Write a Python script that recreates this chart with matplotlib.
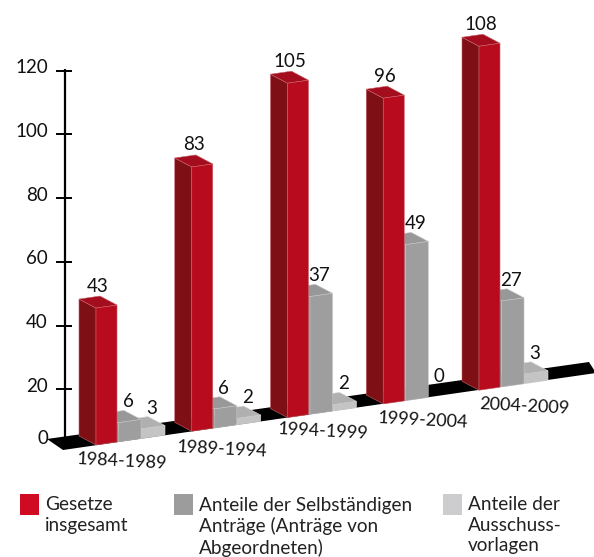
import matplotlib
matplotlib.use("Agg")
import matplotlib.pyplot as plt
from matplotlib.patches import Polygon, Rectangle

plt.rcParams['font.family'] = ['Lato', 'DejaVu Sans']

perioden = ['1984-1989', '1989-1994', '1994-1999', '1999-2004', '2004-2009']
gesetze = [43, 83, 105, 96, 108]
selbstaendige = [6, 6, 37, 49, 27]
ausschuss = [3, 2, 2, 0, 3]
y_ticks = [20, 40, 60, 80, 100, 120]

WIDTH, HEIGHT = 594, 557
PX_PER_UNIT = 3.185    # bar height per law
SLOPE = -0.143         # the floor climbs to the right
GROUP_STEP = 95.75
FIRST_X, FIRST_Y = 96, 445
DEPTH = (-17, -9)
ZERO_Y = 452.9         # where the scale of the axis would reach 0

fig = plt.figure(figsize=(WIDTH / 100, HEIGHT / 100), dpi=100)
ax = fig.add_axes([0, 0, 1, 1])
ax.set_xlim(0, WIDTH)
ax.set_ylim(HEIGHT, 0)
ax.axis('off')


def floor_y(x):
    return FIRST_Y + SLOPE * (x - FIRST_X)


def bar3d(x, w, value, front, side, top, edge):
    # quader: front face, left side and lid
    y0 = floor_y(x)
    y1 = floor_y(x + w)
    h = value * PX_PER_UNIT
    dx, dy = DEPTH
    ax.add_patch(Polygon([(x, y0), (x + dx, y0 + dy), (x + dx, y0 + dy - h), (x, y0 - h)],
                         fc=side, ec=edge, lw=0.4, zorder=3))
    ax.add_patch(Polygon([(x, y0 - h), (x + dx, y0 + dy - h), (x + w + dx, y1 + dy - h), (x + w, y1 - h)],
                         fc=top, ec=edge, lw=0.4, zorder=3))
    ax.add_patch(Polygon([(x, y0), (x + w, y1), (x + w, y1 - h), (x, y0 - h)],
                         fc=front, ec=edge, lw=0.4, zorder=3))


# floor band
ax.add_patch(Polygon([(47, 439), (589, 362), (596, 373), (63, 450)], fc='black', ec='none', zorder=1))

# y axis
ax.plot([65, 65], [69, 438], color='black', lw=1.6, zorder=2, solid_capstyle='butt')
for t in y_ticks:
    yy = ZERO_Y - t * PX_PER_UNIT
    ax.plot([56, 72], [yy, yy], color='black', lw=1.4, zorder=2, solid_capstyle='butt')
    ax.text(48, yy - 3, str(t), ha='right', va='center', fontsize=13.5, color='#111111')
ax.text(48, 439, '0', ha='right', va='center', fontsize=13.5, color='#111111')

label_pos = [(122, 461), (222, 449), (323, 431), (423, 420), (524, 406)]

for i, name in enumerate(perioden):
    x = FIRST_X + i * GROUP_STEP
    # back to front: light, grey, red
    if ausschuss[i] > 0:
        bar3d(x + 45.5, 23.5, ausschuss[i], '#c4c4c4', '#a8a8a8', '#b0b0b0', '#d8d8d8')
    bar3d(x + 22.5, 22.5, selbstaendige[i], '#9e9e9e', '#8c8c8c', '#989898', '#c4c4c4')
    bar3d(x, 21, gesetze[i], '#b80c1e', '#7e1015', '#a30d1d', '#c9606a')

    ax.text(x + 2, floor_y(x) - gesetze[i] * PX_PER_UNIT - 22, str(gesetze[i]),
            ha='center', va='center', fontsize=13.5, color='#111111', zorder=5)
    ax.text(x + 32, floor_y(x + 22) - selbstaendige[i] * PX_PER_UNIT - 21, str(selbstaendige[i]),
            ha='center', va='center', fontsize=13.5, color='#111111', zorder=5)
    ax.text(x + 56, floor_y(x + 45) - ausschuss[i] * PX_PER_UNIT - 21, str(ausschuss[i]),
            ha='center', va='center', fontsize=13.5, color='#111111', zorder=5)

    ax.text(label_pos[i][0], label_pos[i][1], name, ha='center', va='center',
            fontsize=13, rotation=-3, color='#111111', zorder=5)

# legend
legend_items = [(20, '#d00a22', 'Gesetze\ninsgesamt'),
                (174, '#9c9c9c', 'Anteile der Selbständigen\nAnträge (Anträge von\nAbgeordneten)'),
                (443, '#cdcdcf', 'Anteile der\nAusschuss-\nvorlagen')]
for lx, col, txt in legend_items:
    ax.add_patch(Rectangle((lx, 494), 19, 21, fc=col, ec='none'))
    ax.text(lx + 25, 496.5, txt, ha='left', va='top', fontsize=13.7,
            linespacing=1.25, color='#222222')

fig.savefig('out.png', dpi=100)
